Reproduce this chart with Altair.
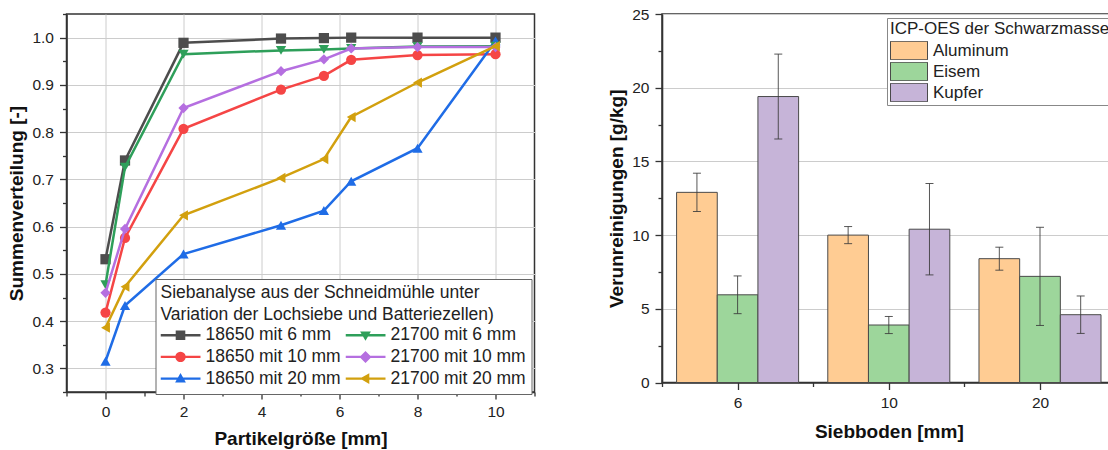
import json

import altair as alt
import numpy as np
import pandas as pd

FONT = "Liberation Sans"

# ---------------- Left panel: cumulative sieve distribution ----------------
sizes_mm = [0, 0.5, 2, 4.5, 5.6, 6.3, 8, 10]
# legend order: first column 18650 cells, second column 21700 cells
series_names = [
    "18650 mit 6 mm", "18650 mit 10 mm", "18650 mit 20 mm",
    "21700 mit 6 mm", "21700 mit 10 mm", "21700 mit 20 mm",
]
cum_18650_6 = [0.531, 0.740, 0.989, 0.998, 0.999, 1.000, 1.000, 1.000]
cum_18650_10 = [0.418, 0.576, 0.807, 0.890, 0.919, 0.953, 0.963, 0.965]
cum_18650_20 = [0.315, 0.433, 0.542, 0.603, 0.634, 0.696, 0.766, 0.993]
cum_21700_6 = [0.477, 0.726, 0.965, 0.973, 0.975, 0.977, 0.981, 0.982]
cum_21700_10 = [0.460, 0.595, 0.851, 0.929, 0.954, 0.977, 0.980, 0.980]
cum_21700_20 = [0.386, 0.473, 0.624, 0.703, 0.743, 0.832, 0.905, 0.982]
series_values = [cum_18650_6, cum_18650_10, cum_18650_20,
                 cum_21700_6, cum_21700_10, cum_21700_20]

series_colors = ["#4d4d4d", "#f54545", "#1f6ce6", "#2e9f5a", "#b56fe0", "#d2a00e"]
series_markers = ["square", "circle", "triangle-up", "triangle-down", "diamond", "triangle-left"]


def _poly(points):
    return "M" + "L".join(f"{x:.3f},{y:.3f}" for x, y in points) + "Z"


# legend glyphs: a short line (thin bar) with the marker in the middle
_bar = "M-1,-0.06H1V0.06H-1Z"
_circle = _poly([(0.26 * np.cos(a), 0.26 * np.sin(a)) for a in np.linspace(0, 2 * np.pi, 24, endpoint=False)])
legend_glyphs = {
    "square": _bar + "M-0.24,-0.24H0.24V0.24H-0.24Z",
    "triangle-down": _bar + _poly([(0, 0.28), (-0.27, -0.19), (0.27, -0.19)]),
    "circle": _bar + _circle,
    "diamond": _bar + _poly([(0, -0.3), (0.3, 0), (0, 0.3), (-0.3, 0)]),
    "triangle-up": _bar + _poly([(0, -0.28), (0.27, 0.19), (-0.27, 0.19)]),
    "triangle-left": _bar + _poly([(-0.28, 0), (0.19, -0.27), (0.19, 0.27)]),
}
legend_shapes = [legend_glyphs[m] for m in series_markers]

sieve = pd.DataFrame(
    [{"series": n, "size": s, "cum": v}
     for n, vals in zip(series_names, series_values)
     for s, v in zip(sizes_mm, vals)]
)

x_ticks = list(range(-1, 12))
y_ticks = [round(0.25 + 0.05 * i, 2) for i in range(17)]
y_major = "abs(datum.value * 10 - round(datum.value * 10)) < 0.01"

x_left = alt.X(
    "size:Q",
    title="Partikelgröße [mm]",
    scale=alt.Scale(domain=[-1, 11], nice=False, zero=False),
    axis=alt.Axis(
        values=x_ticks,
        labelExpr="datum.value % 2 == 0 ? datum.label : ''",
        tickSize={"condition": {"test": "datum.value % 2 == 0", "value": 7}, "value": 4},
        gridOpacity={"condition": {"test": "datum.value % 2 == 0", "value": 1}, "value": 0},
        grid=True, labelPadding=5, titlePadding=10,
    ),
)
y_left = alt.Y(
    "cum:Q",
    title="Summenverteilung [-]",
    scale=alt.Scale(domain=[0.25, 1.05], nice=False, zero=False),
    axis=alt.Axis(
        values=y_ticks,
        labelExpr=f"{y_major} ? format(datum.value, '.1f') : ''",
        tickSize={"condition": {"test": y_major, "value": 7}, "value": 4},
        gridOpacity={"condition": {"test": y_major, "value": 1}, "value": 0},
        grid=True, labelPadding=6, titlePadding=5,
    ),
)

base_left = alt.Chart(sieve).encode(x=x_left, y=y_left)

# plotting order: 18650 curves first, then 21700 curves
layers = []
for i in range(len(series_names)):
    name, color, marker = series_names[i], series_colors[i], series_markers[i]
    one = base_left.transform_filter(alt.datum.series == name)
    layers.append(one.mark_line(color=color, strokeWidth=2.5))
    layers.append(one.mark_point(shape=marker, filled=True, size=105, color=color, opacity=1))

left_legend = alt.Legend(
    title=["Siebanalyse aus der Schneidmühle unter",
           "Variation der Lochsiebe und Batteriezellen)"],
    orient="none", legendX=89, legendY=265, columns=2, columnPadding=4,
    symbolSize=1600, symbolStrokeWidth=0, symbolOpacity=1,
    clipHeight=20, rowPadding=1.7, labelOffset=5,
    labelFontSize=17.5, titleFontSize=17.5, titleFontWeight="normal",
    titleLineHeight=21.7, titlePadding=2, padding=5,
    strokeColor="#666666", fillColor="white",
    titleLimit=600, labelLimit=300,
)
legend_layer = base_left.transform_filter("false").mark_point(
    filled=True, size=1600, opacity=1
).encode(
    color=alt.Color("series:N", scale=alt.Scale(domain=series_names, range=series_colors),
                    legend=left_legend),
    shape=alt.Shape("series:N", scale=alt.Scale(domain=series_names, range=legend_shapes),
                    legend=left_legend),
)

left = alt.layer(*layers, legend_layer).properties(width=468, height=378)

# ---------------- Right panel: impurities in the black mass ----------------
sieve_floor = ["6", "10", "20"]
metals = ["Aluminum", "Eisem", "Kupfer"]
aluminum = [12.9, 10.0, 8.4]
eisen = [5.95, 3.9, 7.2]
kupfer = [19.4, 10.4, 4.6]
aluminum_err = [1.3, 0.58, 0.78]
eisen_err = [1.28, 0.58, 3.33]
kupfer_err = [2.88, 3.1, 1.27]
metal_colors = ["#ffcc93", "#9dd69b", "#c6b4d8"]

BAR_W = 0.269  # width of one bar, in units of the group step

metal_values = [aluminum, eisen, kupfer]
metal_errors = [aluminum_err, eisen_err, kupfer_err]
bar_rows = []
for gi, g in enumerate(sieve_floor):
    for mi, m in enumerate(metals):
        center = gi + (mi - 1) * BAR_W
        v, e = metal_values[mi][gi], metal_errors[mi][gi]
        bar_rows.append({
            "floor": g, "metal": m, "center": center,
            "x0": center - BAR_W / 2, "x1": center + BAR_W / 2,
            "value": v, "lo": v - e, "hi": v + e,
        })
bars_df = pd.DataFrame(bar_rows)

floor_labels = json.dumps(sieve_floor)
x_right_scale = alt.Scale(domain=[-0.5, 2.5], nice=False, zero=False)
y_right_scale = alt.Scale(domain=[0, 25], nice=False, zero=False)
x_right_axis = alt.Axis(
    values=[-0.5, 0, 0.5, 1, 1.5, 2, 2.5],
    labelExpr=f"datum.value % 1 == 0 ? {floor_labels}[datum.value] : ''",
    tickSize={"condition": {"test": "datum.value % 1 == 0", "value": 7}, "value": 4},
    grid=False, labelPadding=6, titlePadding=11,
)
y_right_axis = alt.Axis(
    values=[2.5 * i for i in range(11)],
    labelExpr="datum.value % 5 == 0 ? datum.label : ''",
    tickSize={"condition": {"test": "datum.value % 5 == 0", "value": 7}, "value": 4},
    gridOpacity={"condition": {"test": "datum.value % 5 == 0", "value": 1}, "value": 0},
    grid=True, labelPadding=6, titlePadding=5,
)

right_legend = alt.Legend(
    title="ICP-OES der Schwarzmasse",
    orient="none", legendX=225, legendY=4,
    symbolType="M-1,-0.5H1V0.5H-1Z", symbolSize=1369,
    symbolStrokeColor="#4a4a4a", symbolStrokeWidth=1, symbolOpacity=1,
    clipHeight=19, rowPadding=2, labelOffset=5,
    labelFontSize=17, titleFontSize=17, titleFontWeight="normal",
    titlePadding=3, padding=3, strokeColor="#888888", fillColor="white",
    titleLimit=600, labelLimit=300,
)

bars = alt.Chart(bars_df).mark_bar(stroke="#4a4a4a", strokeWidth=1, opacity=1).encode(
    x=alt.X("x0:Q", title="Siebboden [mm]", scale=x_right_scale, axis=x_right_axis),
    x2="x1:Q",
    y=alt.Y("value:Q", title="Verunreinigungen [g/kg]", scale=y_right_scale, axis=y_right_axis),
    y2=alt.datum(0),
    color=alt.Color("metal:N", scale=alt.Scale(domain=metals, range=metal_colors),
                    legend=right_legend),
)
err_base = alt.Chart(bars_df).encode(
    x=alt.X("center:Q", title="Siebboden [mm]", scale=x_right_scale, axis=x_right_axis),
)
err_rules = err_base.mark_rule(color="#3a3a3a", strokeWidth=1, opacity=0.85).encode(
    y=alt.Y("lo:Q", title="Verunreinigungen [g/kg]", scale=y_right_scale, axis=y_right_axis),
    y2="hi:Q",
)
cap_lo = err_base.mark_tick(orient="horizontal", size=8, thickness=1, color="#3a3a3a", opacity=0.85).encode(
    y=alt.Y("lo:Q", title="Verunreinigungen [g/kg]", scale=y_right_scale, axis=y_right_axis),
)
cap_hi = err_base.mark_tick(orient="horizontal", size=8, thickness=1, color="#3a3a3a", opacity=0.85).encode(
    y=alt.Y("hi:Q", title="Verunreinigungen [g/kg]", scale=y_right_scale, axis=y_right_axis),
)

right = alt.layer(bars, err_rules, cap_lo, cap_hi).properties(width=453.6, height=368.5)

# the right panel runs past the 1108 px canvas edge; negative right
# padding trims the drawing surface so the overflow is cut off, not rescaled
chart = (
    alt.hconcat(left, right, spacing=127.5, bounds="flush")
    .resolve_scale(color="independent", shape="independent")
    .resolve_legend(color="independent", shape="independent")
    .configure(font=FONT, padding={"left": 6.5, "top": 6, "right": -10, "bottom": 0})
    .configure_axis(
        labelFont=FONT, labelFontSize=15.5, labelColor="#222222",
        titleFont=FONT, titleFontSize=19, titleFontWeight="bold", titleColor="#111111",
        domainColor="#333333", domainWidth=1.6,
        tickColor="#333333", tickWidth=1.3,
        gridColor="#cccccc", gridWidth=1,
    )
    .configure_legend(labelFont=FONT, titleFont=FONT, labelColor="#222222", titleColor="#222222")
    .configure_view(stroke="#333333", strokeWidth=1.5)
)

chart.save("out.html", embed_options={"renderer": "svg", "actions": False})
